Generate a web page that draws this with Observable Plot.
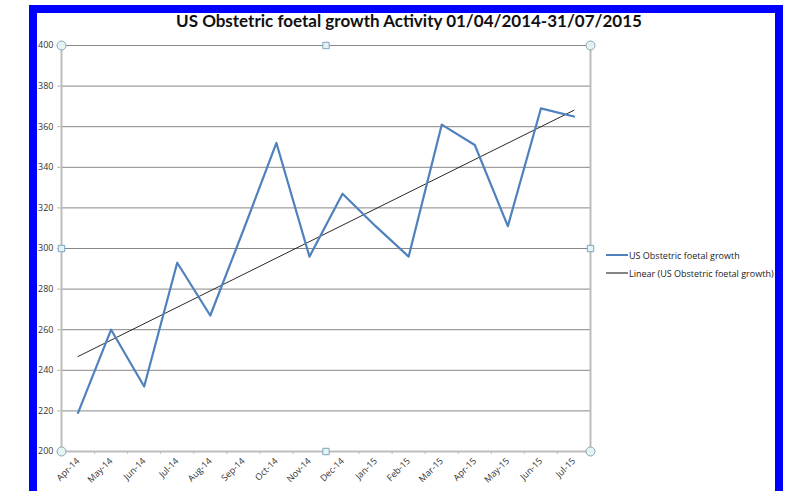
<!DOCTYPE html>
<html><head><meta charset="utf-8">
<script src="https://cdn.jsdelivr.net/npm/d3@7"></script>
<script src="https://cdn.jsdelivr.net/npm/@observablehq/plot@0.6"></script>
<style>
body{margin:0;background:#fff;}
#wrap{position:relative;width:795px;height:491px;overflow:hidden;background:#fff;}
#chart{position:absolute;left:0;top:0;}
#title{position:absolute;left:0;width:818px;top:10px;text-align:center;font-family:Lato,"Open Sans",sans-serif;font-weight:700;font-size:17px;color:#111;white-space:nowrap;}
#legend{position:absolute;left:606px;top:246px;font-family:"Open Sans",Lato,sans-serif;font-size:9px;color:#222;}
#legend div{display:flex;align-items:center;height:18px;white-space:nowrap;}
#legend svg{margin-right:1px;}
#frame{position:absolute;left:29px;top:5px;width:754px;height:520px;border:8px solid #0000ff;box-sizing:border-box;pointer-events:none;}
</style></head>
<body>
<div id="wrap">
<div id="chart"></div>
<div id="title"></div>
<div id="legend"></div>
<div id="frame"></div>
</div>
<script>
const titleText = "US Obstetric foetal growth Activity 01/04/2014-31/07/2015";
const months = ["Apr-14","May-14","Jun-14","Jul-14","Aug-14","Sep-14","Oct-14","Nov-14","Dec-14","Jan-15","Feb-15","Mar-15","Apr-15","May-15","Jun-15","Jul-15"];
const values = [219,260,232,293,267,309,352,296,327,311,296,361,351,311,369,365];
const yTicks = [200,220,240,260,280,300,320,340,360,380,400];
const seriesName = "US Obstetric foetal growth";
const trendName = "Linear (US Obstetric foetal growth)";

const data = months.map((m, i) => ({i, month: m, value: values[i]}));
const xDomain = [-0.5, months.length - 0.5];
const yDomain = [yTicks[0], yTicks[yTicks.length - 1]];
const boundaries = d3.range(months.length + 1).map(k => k - 0.5);
const xMid = (xDomain[0] + xDomain[1]) / 2;
const yMid = (yDomain[0] + yDomain[1]) / 2;
const cornerHandles = [];
for (const x of xDomain) for (const y of yDomain) cornerHandles.push({x, y});
const midHandles = [{x: xMid, y: yDomain[0]}, {x: xMid, y: yDomain[1]}, {x: xDomain[0], y: yMid}, {x: xDomain[1], y: yMid}];

const gridColor = "#878787";
const axisColor = "#bdbdbd";
const seriesColor = "#4F81BD";

const chart = Plot.plot({
  width: 795,
  height: 491,
  marginLeft: 61,
  marginRight: 205,
  marginTop: 45,
  marginBottom: 40,
  style: {fontFamily: "'Open Sans', Lato, sans-serif", fontSize: "9px", color: "#333", background: "transparent"},
  x: {domain: xDomain, type: "linear"},
  y: {domain: yDomain},
  marks: [
    Plot.ruleY(yTicks.slice(1), {stroke: gridColor, strokeWidth: 1}),
    Plot.ruleY([yDomain[0]], {stroke: axisColor, strokeWidth: 2}),
    Plot.ruleX(xDomain, {stroke: axisColor, strokeWidth: 2}),
    Plot.axisY({ticks: yTicks, tickSize: 4, tickPadding: 4, stroke: axisColor, label: null, tickFormat: d => d}),
    Plot.axisX({ticks: boundaries, tickSize: 3, tickFormat: () => "", stroke: axisColor, label: null}),
    Plot.axisX({ticks: d3.range(months.length), tickSize: 0, tickRotate: -45, tickPadding: 8, tickFormat: i => months[i], label: null, textAnchor: "end"}),
    Plot.linearRegressionY(data, {x: "i", y: "value", ci: 0, stroke: "#111", strokeWidth: 0.9}),
    Plot.line(data, {x: "i", y: "value", stroke: seriesColor, strokeWidth: 2.2}),
    Plot.dot(cornerHandles, {x: "x", y: "y", r: 4.5, fill: "#e4f3f6", stroke: "#8aa6b2", strokeWidth: 1}),
    Plot.dot(midHandles, {x: "x", y: "y", symbol: "square", r: 3.6, fill: "#e4f3f6", stroke: "#7ea6c0", strokeWidth: 1})
  ]
});
document.getElementById("chart").appendChild(chart);
document.getElementById("title").textContent = titleText;

const legend = document.getElementById("legend");
[[seriesName, seriesColor, 2], [trendName, "#333", 1.2]].forEach(([name, color, w]) => {
  const row = document.createElement("div");
  row.innerHTML = `<svg width="22" height="4"><line x1="0" x2="22" y1="2" y2="2" stroke="${color}" stroke-width="${w}"/></svg><span>${name}</span>`;
  legend.appendChild(row);
});
</script>
</body></html>
